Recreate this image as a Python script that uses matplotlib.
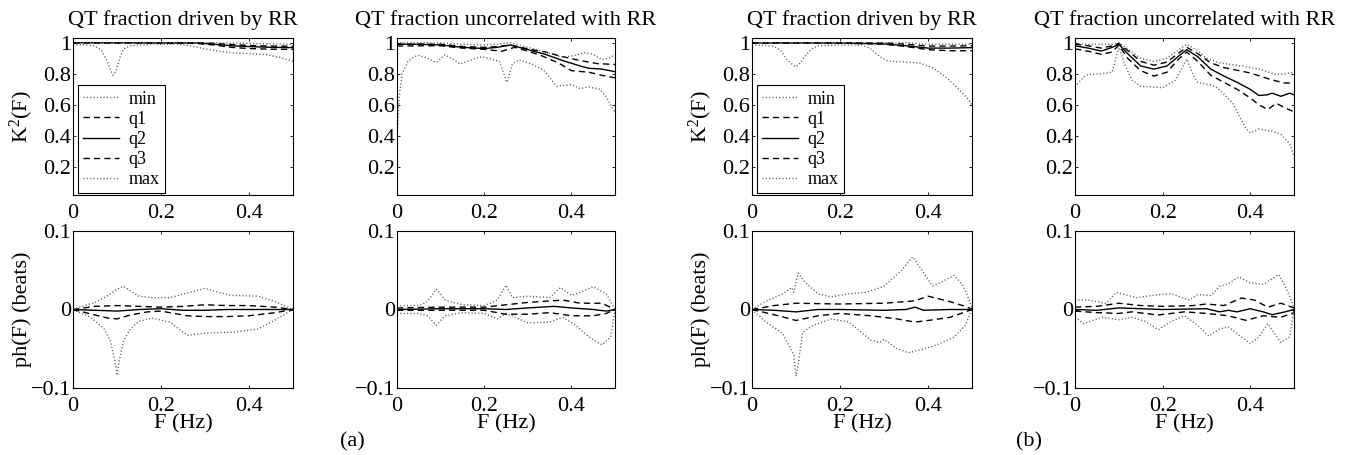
import matplotlib
matplotlib.use("Agg")
import numpy as np
from matplotlib import pyplot as plt
from matplotlib.ticker import FuncFormatter

# ---- data: (F in Hz, value) ----
# (a) QT fraction driven by RR, K^2(F)
drv_a_k2_min = [(0, 0.99), (0.03, 0.985), (0.05, 0.978), (0.065, 0.95), (0.078, 0.88), (0.086, 0.82), (0.091, 0.79),
                (0.098, 0.82), (0.106, 0.9), (0.115, 0.96), (0.13, 0.98), (0.18, 0.99), (0.24, 0.99), (0.27, 0.978),
                (0.3, 0.96), (0.33, 0.945), (0.36, 0.935), (0.4, 0.93), (0.44, 0.922), (0.47, 0.905), (0.5, 0.88)]
drv_a_k2_q1 = [(0, 0.998), (0.1, 0.998), (0.2, 0.998), (0.28, 0.995), (0.32, 0.985), (0.36, 0.97), (0.4, 0.962),
               (0.45, 0.958), (0.5, 0.957)]
drv_a_k2_q2 = [(0, 1.0), (0.28, 0.998), (0.32, 0.99), (0.36, 0.98), (0.4, 0.975), (0.45, 0.97), (0.5, 0.968)]
drv_a_k2_q3 = [(0, 1.0), (0.3, 0.999), (0.35, 0.99), (0.4, 0.982), (0.45, 0.978), (0.5, 0.977)]
drv_a_k2_max = [(0, 1.0), (0.3, 1.0), (0.4, 0.995), (0.5, 0.99)]

# (a) QT fraction uncorrelated with RR, K^2(F)
unc_a_k2_min = [(0, 0.41), (0.005, 0.65), (0.012, 0.8), (0.025, 0.88), (0.04, 0.91), (0.05, 0.918), (0.07, 0.9),
                (0.09, 0.872), (0.11, 0.922), (0.13, 0.89), (0.145, 0.862), (0.175, 0.895), (0.195, 0.91),
                (0.235, 0.88), (0.252, 0.745), (0.265, 0.865), (0.28, 0.89), (0.305, 0.865), (0.336, 0.825),
                (0.366, 0.72), (0.4, 0.73), (0.42, 0.705), (0.44, 0.715), (0.465, 0.70), (0.48, 0.65), (0.5, 0.55)]
unc_a_k2_q1 = [(0, 0.978), (0.05, 0.98), (0.1, 0.98), (0.15, 0.965), (0.2, 0.957), (0.24, 0.945), (0.27, 0.97),
               (0.3, 0.945), (0.33, 0.918), (0.37, 0.87), (0.4, 0.82), (0.44, 0.81), (0.47, 0.79), (0.5, 0.774)]
unc_a_k2_q2 = [(0, 0.99), (0.05, 0.99), (0.1, 0.985), (0.15, 0.97), (0.2, 0.962), (0.23, 0.97), (0.26, 0.985),
               (0.3, 0.955), (0.34, 0.925), (0.38, 0.885), (0.42, 0.85), (0.44, 0.835), (0.47, 0.83), (0.5, 0.813)]
unc_a_k2_q3 = [(0, 0.99), (0.05, 0.99), (0.1, 0.99), (0.15, 0.975), (0.2, 0.97), (0.23, 0.975), (0.26, 0.985),
               (0.3, 0.96), (0.34, 0.94), (0.38, 0.91), (0.42, 0.885), (0.46, 0.865), (0.5, 0.86)]
unc_a_k2_max = [(0, 1.0), (0.05, 1.0), (0.1, 0.998), (0.15, 0.99), (0.2, 0.985), (0.23, 0.99), (0.26, 1.0),
                (0.3, 0.97), (0.34, 0.94), (0.38, 0.905), (0.41, 0.92), (0.43, 0.935), (0.45, 0.925),
                (0.47, 0.89), (0.49, 0.905), (0.5, 0.925)]

# (b) QT fraction driven by RR, K^2(F)
drv_b_k2_min = [(0, 0.985), (0.03, 0.983), (0.05, 0.975), (0.065, 0.95), (0.08, 0.89), (0.093, 0.855), (0.1, 0.845),
                (0.11, 0.87), (0.12, 0.91), (0.135, 0.96), (0.15, 0.98), (0.2, 0.985), (0.25, 0.985), (0.27, 0.96),
                (0.29, 0.91), (0.31, 0.88), (0.35, 0.875), (0.38, 0.87), (0.41, 0.84), (0.44, 0.78), (0.47, 0.7),
                (0.49, 0.64), (0.5, 0.6)]
drv_b_k2_q1 = [(0, 0.998), (0.2, 0.998), (0.3, 0.99), (0.35, 0.975), (0.4, 0.955), (0.45, 0.948), (0.5, 0.948)]
drv_b_k2_q2 = [(0, 0.998), (0.2, 0.998), (0.3, 0.992), (0.35, 0.98), (0.4, 0.965), (0.45, 0.965), (0.5, 0.968)]
drv_b_k2_q3 = [(0, 1.0), (0.3, 0.998), (0.35, 0.99), (0.4, 0.978), (0.45, 0.978), (0.5, 0.98)]
drv_b_k2_max = [(0, 1.0), (0.35, 1.0), (0.4, 0.99), (0.5, 0.99)]

# (b) QT fraction uncorrelated with RR, K^2(F)
unc_b_k2_min = [(0, 0.716), (0.02, 0.78), (0.03, 0.795), (0.06, 0.8), (0.085, 0.81), (0.1, 0.97), (0.115, 0.85),
                (0.13, 0.76), (0.15, 0.72), (0.175, 0.715), (0.2, 0.71), (0.23, 0.76), (0.255, 0.895), (0.27, 0.79),
                (0.28, 0.745), (0.32, 0.72), (0.34, 0.67), (0.36, 0.61), (0.38, 0.5), (0.39, 0.45), (0.4, 0.42),
                (0.42, 0.445), (0.45, 0.43), (0.47, 0.41), (0.49, 0.35), (0.5, 0.27)]
unc_b_k2_q1 = [(0, 0.96), (0.03, 0.945), (0.06, 0.925), (0.085, 0.94), (0.1, 0.985), (0.12, 0.9), (0.15, 0.82),
               (0.18, 0.785), (0.21, 0.81), (0.235, 0.89), (0.255, 0.94), (0.28, 0.88), (0.31, 0.79), (0.34, 0.745),
               (0.37, 0.7), (0.4, 0.645), (0.42, 0.6), (0.44, 0.57), (0.46, 0.61), (0.48, 0.58), (0.5, 0.555)]
unc_b_k2_q2 = [(0, 0.98), (0.03, 0.965), (0.06, 0.946), (0.085, 0.97), (0.1, 0.99), (0.12, 0.93), (0.15, 0.85),
               (0.18, 0.83), (0.21, 0.85), (0.235, 0.91), (0.255, 0.955), (0.28, 0.91), (0.31, 0.83), (0.34, 0.785),
               (0.37, 0.745), (0.4, 0.70), (0.42, 0.66), (0.44, 0.665), (0.45, 0.675), (0.47, 0.655),
               (0.49, 0.675), (0.5, 0.665)]
unc_b_k2_q3 = [(0, 0.99), (0.03, 0.98), (0.06, 0.965), (0.085, 0.98), (0.1, 0.995), (0.12, 0.95), (0.15, 0.88),
               (0.18, 0.855), (0.21, 0.875), (0.235, 0.93), (0.255, 0.97), (0.28, 0.93), (0.31, 0.87),
               (0.34, 0.84), (0.4, 0.805), (0.45, 0.76), (0.48, 0.74), (0.5, 0.74)]
unc_b_k2_max = [(0, 0.995), (0.03, 0.99), (0.06, 0.99), (0.085, 0.99), (0.1, 1.0), (0.12, 0.96), (0.15, 0.9),
                (0.18, 0.88), (0.21, 0.9), (0.235, 0.95), (0.255, 0.99), (0.28, 0.95), (0.3, 0.9), (0.33, 0.87),
                (0.37, 0.855), (0.42, 0.83), (0.46, 0.795), (0.48, 0.8), (0.5, 0.81)]

# (a) driven by RR, ph(F)
drv_a_ph_min = [(0, 0.0), (0.04, -0.01), (0.07, -0.024), (0.085, -0.04), (0.095, -0.065), (0.1, -0.084),
                (0.105, -0.065), (0.115, -0.04), (0.13, -0.025), (0.15, -0.015), (0.18, -0.011), (0.22, -0.016),
                (0.26, -0.033), (0.3, -0.03), (0.36, -0.029), (0.42, -0.025), (0.46, -0.013), (0.5, 0.0)]
drv_a_ph_q1 = [(0, 0.0), (0.05, -0.007), (0.08, -0.011), (0.1, -0.012), (0.13, -0.007), (0.17, -0.003),
               (0.2, -0.002), (0.26, -0.008), (0.3, -0.009), (0.35, -0.009), (0.4, -0.008), (0.46, -0.004), (0.5, 0.0)]
drv_a_ph_q2 = [(0, 0.0), (0.05, -0.001), (0.1, -0.002), (0.15, 0.0), (0.2, 0.001), (0.25, -0.001), (0.3, -0.001),
               (0.35, 0.0), (0.4, 0.0), (0.5, 0.0)]
drv_a_ph_q3 = [(0, 0.0), (0.05, 0.004), (0.1, 0.005), (0.15, 0.004), (0.2, 0.003), (0.25, 0.004), (0.3, 0.006),
               (0.35, 0.005), (0.4, 0.005), (0.46, 0.003), (0.5, 0.0)]
drv_a_ph_max = [(0, 0.0), (0.02, 0.004), (0.05, 0.009), (0.08, 0.018), (0.1, 0.026), (0.115, 0.0295), (0.13, 0.024),
                (0.15, 0.017), (0.18, 0.015), (0.22, 0.015), (0.26, 0.021), (0.3, 0.027), (0.33, 0.022),
                (0.36, 0.018), (0.42, 0.017), (0.46, 0.01), (0.5, 0.0)]

# (a) uncorrelated with RR, ph(F)
unc_a_ph_min = [(0, -0.005), (0.05, -0.005), (0.07, -0.008), (0.09, -0.02), (0.11, -0.008), (0.15, -0.004),
                (0.2, -0.005), (0.23, -0.012), (0.25, -0.005), (0.3, -0.017), (0.35, -0.016), (0.38, -0.01),
                (0.41, -0.02), (0.44, -0.035), (0.47, -0.045), (0.49, -0.035), (0.5, 0.0)]
unc_a_ph_q1 = [(0, -0.001), (0.1, -0.001), (0.2, -0.001), (0.25, -0.006), (0.3, -0.006), (0.35, -0.004),
               (0.4, -0.008), (0.45, -0.008), (0.48, -0.005), (0.5, 0.0)]
unc_a_ph_q2 = [(0, 0.0), (0.1, 0.001), (0.2, 0.001), (0.25, 0.0), (0.3, 0.002), (0.36, 0.004), (0.4, 0.002),
               (0.45, 0.0), (0.48, -0.002), (0.5, 0.0)]
unc_a_ph_q3 = [(0, 0.002), (0.1, 0.003), (0.2, 0.003), (0.25, 0.006), (0.3, 0.009), (0.38, 0.012), (0.42, 0.008),
               (0.47, 0.008), (0.5, 0.0)]
unc_a_ph_max = [(0, 0.005), (0.05, 0.005), (0.07, 0.01), (0.09, 0.026), (0.1, 0.02), (0.11, 0.012), (0.15, 0.006),
                (0.2, 0.005), (0.23, 0.012), (0.25, 0.031), (0.265, 0.015), (0.3, 0.017), (0.35, 0.015),
                (0.375, 0.028), (0.4, 0.018), (0.42, 0.022), (0.45, 0.029), (0.48, 0.02), (0.5, 0.0)]

# (b) driven by RR, ph(F)
drv_b_ph_min = [(0, 0.0), (0.03, -0.015), (0.07, -0.031), (0.095, -0.058), (0.1, -0.085), (0.105, -0.07),
                (0.115, -0.029), (0.14, -0.02), (0.18, -0.012), (0.22, -0.016), (0.27, -0.039), (0.29, -0.042),
                (0.3, -0.038), (0.33, -0.05), (0.355, -0.055), (0.38, -0.052), (0.42, -0.045), (0.46, -0.035),
                (0.485, -0.02), (0.5, 0.0)]
drv_b_ph_q1 = [(0, 0.0), (0.06, -0.008), (0.1, -0.014), (0.15, -0.008), (0.2, -0.005), (0.27, -0.008),
               (0.33, -0.012), (0.37, -0.016), (0.4, -0.014), (0.45, -0.01), (0.48, -0.004), (0.5, 0.0)]
drv_b_ph_q2 = [(0, 0.0), (0.05, -0.001), (0.1, -0.003), (0.15, 0.0), (0.2, 0.0), (0.3, -0.001), (0.35, 0.0),
               (0.37, 0.003), (0.39, -0.001), (0.45, 0.0), (0.5, 0.0)]
drv_b_ph_q3 = [(0, 0.0), (0.05, 0.005), (0.1, 0.008), (0.2, 0.007), (0.3, 0.008), (0.37, 0.011), (0.4, 0.017),
               (0.45, 0.01), (0.49, 0.003), (0.5, 0.0)]
drv_b_ph_max = [(0, 0.0), (0.03, 0.01), (0.07, 0.02), (0.09, 0.028), (0.095, 0.022), (0.105, 0.0465), (0.12, 0.035),
                (0.15, 0.02), (0.18, 0.016), (0.22, 0.02), (0.26, 0.022), (0.3, 0.0295), (0.34, 0.05),
                (0.365, 0.067), (0.38, 0.055), (0.41, 0.03), (0.43, 0.035), (0.46, 0.0435), (0.48, 0.03),
                (0.495, 0.01), (0.5, 0.0)]

# (b) uncorrelated with RR, ph(F)
unc_b_ph_min = [(0, -0.01), (0.02, -0.018), (0.06, -0.01), (0.1, -0.013), (0.13, -0.01), (0.16, -0.015),
                (0.19, -0.0257), (0.22, -0.015), (0.25, -0.008), (0.28, -0.02), (0.305, -0.034), (0.33, -0.025),
                (0.35, -0.022), (0.38, -0.035), (0.4, -0.0435), (0.42, -0.035), (0.44, -0.018), (0.455, -0.03),
                (0.47, -0.042), (0.49, -0.035), (0.5, 0.0)]
unc_b_ph_q1 = [(0, -0.002), (0.05, -0.004), (0.1, -0.005), (0.13, -0.003), (0.19, -0.007), (0.25, -0.003),
               (0.3, -0.005), (0.35, -0.008), (0.39, -0.0138), (0.43, -0.008), (0.47, -0.01), (0.5, -0.004)]
unc_b_ph_q2 = [(0, 0.0), (0.05, -0.001), (0.1, 0.002), (0.2, 0.0), (0.3, 0.001), (0.33, -0.003), (0.35, -0.001),
               (0.37, -0.003), (0.4, 0.001), (0.43, -0.003), (0.45, -0.0066), (0.48, -0.003), (0.5, 0.0)]
unc_b_ph_q3 = [(0, 0.003), (0.05, 0.004), (0.1, 0.008), (0.15, 0.005), (0.2, 0.004), (0.27, 0.005), (0.3, 0.007),
               (0.34, 0.005), (0.38, 0.0146), (0.41, 0.012), (0.44, 0.003), (0.47, 0.008), (0.5, 0.002)]
unc_b_ph_max = [(0, 0.012), (0.03, 0.012), (0.07, 0.008), (0.095, 0.022), (0.14, 0.015), (0.19, 0.019),
                (0.22, 0.02), (0.26, 0.012), (0.28, 0.019), (0.31, 0.018), (0.33, 0.0295), (0.35, 0.033),
                (0.375, 0.0415), (0.4, 0.034), (0.43, 0.032), (0.465, 0.0445), (0.48, 0.03), (0.495, 0.01),
                (0.5, 0.0)]

series_names = ["min", "q1", "q2", "q3", "max"]
titles = ["QT fraction driven by RR", "QT fraction uncorrelated with RR"]
x_ticks = [0, 0.2, 0.4]
k2_ticks = [0.2, 0.4, 0.6, 0.8, 1]
ph_ticks = [-0.1, 0, 0.1]

# ---- style ----
plt.rcParams["font.family"] = ["Liberation Serif", "DejaVu Serif"]
plt.rcParams["mathtext.default"] = "regular"
plt.rcParams["font.size"] = 16
plt.rcParams["axes.linewidth"] = 0.8
plt.rcParams["lines.scale_dashes"] = False
plt.rcParams["xtick.direction"] = "in"
plt.rcParams["ytick.direction"] = "in"

line_styles = {
    "min": dict(color="0.35", ls=(0, (0.8, 1.6)), lw=1.0),
    "q1": dict(color="k", ls=(0, (4.5, 3.0)), lw=1.0),
    "q2": dict(color="k", ls="-", lw=1.0),
    "q3": dict(color="k", ls=(0, (4.5, 3.0)), lw=1.0),
    "max": dict(color="0.35", ls=(0, (0.8, 1.6)), lw=1.0),
}


def fmt(v, pos):
    return "{:g}".format(v).replace("-", "\u2212")


def draw_panel(ax, curves, ylim, yticks, ylabel=None, ylabel_x=-0.18, title=None, legend=False, xlabel=False):
    for name, pts in zip(series_names, curves):
        pts = np.array(pts)
        ax.plot(pts[:, 0], pts[:, 1], label=name, **line_styles[name])
    ax.set_xlim(0, 0.5)
    ax.set_ylim(*ylim)
    ax.set_xticks(x_ticks)
    ax.set_yticks(yticks)
    ax.xaxis.set_major_formatter(FuncFormatter(fmt))
    ax.yaxis.set_major_formatter(FuncFormatter(fmt))
    ax.tick_params(top=True, right=True, length=2.5, width=0.6)
    ax.tick_params(axis="x", pad=6.5)
    ax.tick_params(axis="y", pad=1.5)
    if title:
        ax.set_title(title, fontsize=16, pad=9)
    if ylabel:
        ax.set_ylabel(ylabel, fontsize=16)
        ax.yaxis.set_label_coords(ylabel_x, 0.5)
    if xlabel:
        ax.set_xlabel("F (Hz)", fontsize=16, labelpad=-1)
    if legend:
        leg = ax.legend(loc="lower left", bbox_to_anchor=(0.022, 0.01), borderaxespad=0, fontsize=13,
                        handlelength=2.0, handletextpad=0.5, labelspacing=0.17, borderpad=0.3,
                        fancybox=False, framealpha=1, edgecolor="k")
        leg.get_frame().set_linewidth(0.8)


W, H = 1349, 455
fig = plt.figure(figsize=(W / 100, H / 100), dpi=100)

lefts = [73, 397, 752, 1075]
widths = [220, 218, 220, 219]
top_rows = [(38, 195), (231, 388)]

k2_sets = [
    [drv_a_k2_min, drv_a_k2_q1, drv_a_k2_q2, drv_a_k2_q3, drv_a_k2_max],
    [unc_a_k2_min, unc_a_k2_q1, unc_a_k2_q2, unc_a_k2_q3, unc_a_k2_max],
    [drv_b_k2_min, drv_b_k2_q1, drv_b_k2_q2, drv_b_k2_q3, drv_b_k2_max],
    [unc_b_k2_min, unc_b_k2_q1, unc_b_k2_q2, unc_b_k2_q3, unc_b_k2_max],
]
ph_sets = [
    [drv_a_ph_min, drv_a_ph_q1, drv_a_ph_q2, drv_a_ph_q3, drv_a_ph_max],
    [unc_a_ph_min, unc_a_ph_q1, unc_a_ph_q2, unc_a_ph_q3, unc_a_ph_max],
    [drv_b_ph_min, drv_b_ph_q1, drv_b_ph_q2, drv_b_ph_q3, drv_b_ph_max],
    [unc_b_ph_min, unc_b_ph_q1, unc_b_ph_q2, unc_b_ph_q3, unc_b_ph_max],
]

for i in range(4):
    first = i % 2 == 0
    t, b = top_rows[0]
    ax = fig.add_axes([lefts[i] / W, 1 - b / H, widths[i] / W, (b - t) / H])
    draw_panel(ax, k2_sets[i], (0.02, 1.03), k2_ticks, ylabel="K$^2$(F)" if first else None,
               ylabel_x=-0.172, title=titles[i % 2], legend=first)
    t, b = top_rows[1]
    ax = fig.add_axes([lefts[i] / W, 1 - b / H, widths[i] / W, (b - t) / H])
    draw_panel(ax, ph_sets[i], (-0.1, 0.1), ph_ticks, ylabel="ph(F) (beats)" if first else None,
               ylabel_x=-0.185, xlabel=True)

fig.text(352 / W, 1 - 442 / H, "(a)", ha="center", va="center", fontsize=16)
fig.text(1029 / W, 1 - 442 / H, "(b)", ha="center", va="center", fontsize=16)

fig.savefig("out.png", dpi=100)
